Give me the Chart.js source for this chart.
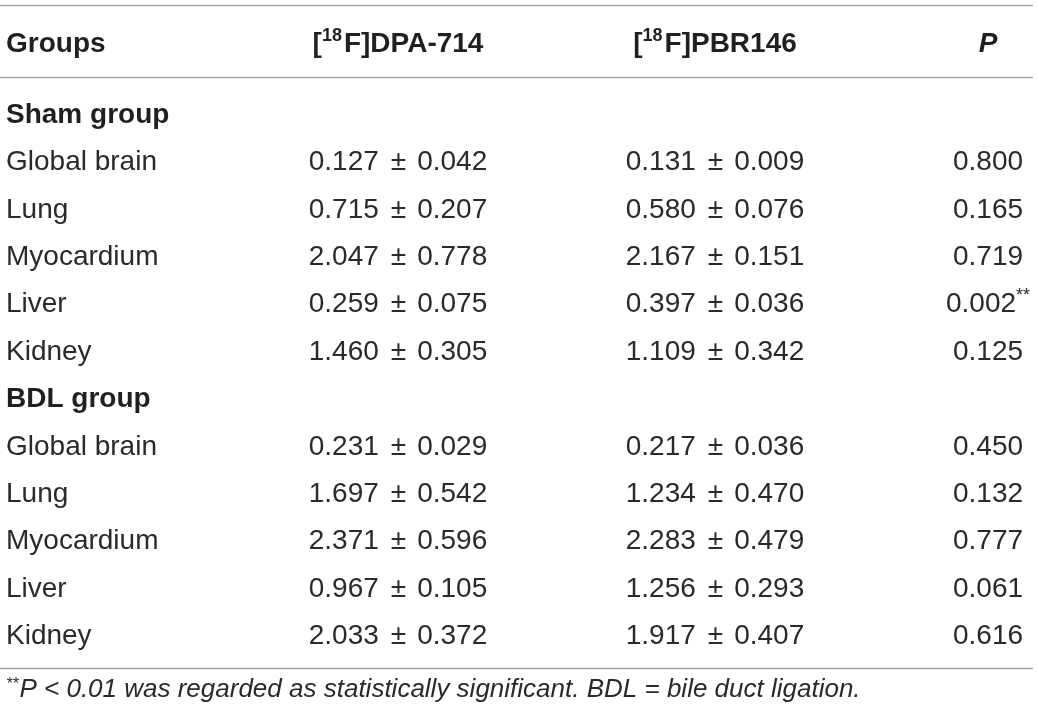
<!DOCTYPE html>
<html>
<head>
<meta charset="utf-8">
<script src="https://cdn.jsdelivr.net/npm/chart.js@4.4.1/dist/chart.umd.min.js"></script>
<style>
  html, body { margin: 0; padding: 0; background: #fff; }
  #wrap { width: 1039px; height: 717px; position: relative; }
</style>
</head>
<body>
<div id="wrap"><canvas id="tableChart"></canvas></div>
<script>
// Table content
const headers = ['Groups', '[18F]DPA-714', '[18F]PBR146', 'P'];
const groupNames = ['Sham group', 'BDL group'];
const tissues = ['Global brain', 'Lung', 'Myocardium', 'Liver', 'Kidney'];

const dpaShamMean = [0.127, 0.715, 2.047, 0.259, 1.460];
const dpaShamSd   = [0.042, 0.207, 0.778, 0.075, 0.305];
const pbrShamMean = [0.131, 0.580, 2.167, 0.397, 1.109];
const pbrShamSd   = [0.009, 0.076, 0.151, 0.036, 0.342];
const pSham       = [0.800, 0.165, 0.719, 0.002, 0.125];
const sigSham     = ['', '', '', '**', ''];

const dpaBdlMean = [0.231, 1.697, 2.371, 0.967, 2.033];
const dpaBdlSd   = [0.029, 0.542, 0.596, 0.105, 0.372];
const pbrBdlMean = [0.217, 1.234, 2.283, 1.256, 1.917];
const pbrBdlSd   = [0.036, 0.470, 0.479, 0.293, 0.407];
const pBdl       = [0.450, 0.132, 0.777, 0.061, 0.616];
const sigBdl     = ['', '', '', '', ''];

const footnote = 'P < 0.01 was regarded as statistically significant. BDL = bile duct ligation.';

// Layout anchors (x in page units, y in row units)
const colX = [6, 398, 715, 988];
const colAlign = ['left', 'center', 'center', 'center'];
const headerRow = -1.5;
const ruleRows = [-2.49, -0.97, 11.51];
const footRow = 12.12;

const TEXT = '#231f20';
const BODY = '#2a2a2a';
const FONT = '"Liberation Sans", Arial, Helvetica, sans-serif';
const SIZE = 28;

const fmt = v => v.toFixed(3);
// mean ± sd as text segments
const pm = (m, s) => [{ t: fmt(m) }, { gap: 12 }, { t: '\u00b1' }, { gap: 11 }, { t: fmt(s) }];

// build the table rows
const rows = [];
[[dpaShamMean, dpaShamSd, pbrShamMean, pbrShamSd, pSham, sigSham],
 [dpaBdlMean, dpaBdlSd, pbrBdlMean, pbrBdlSd, pBdl, sigBdl]].forEach((g, gi) => {
    rows.push({ group: groupNames[gi] });
    tissues.forEach((t, i) => {
        const pSegs = [{ t: fmt(g[4][i]) }];
        if (g[5][i]) pSegs.push({ t: g[5][i], sup: true });
        rows.push({
            cells: [[{ t: t }], pm(g[0][i], g[1][i]), pm(g[2][i], g[3][i]), pSegs]
        });
    });
});

// draw a list of text segments {t, sup, italic, weight} or {gap} with alignment
function drawRich(ctx, segs, x, y, align, weight) {
    const parts = segs.map(s => {
        if (s.gap) return { gap: true, w: s.gap };
        const size = s.sup ? Math.round(SIZE * 0.64) : SIZE;
        const font = (s.italic ? 'italic ' : '') + (s.weight || weight) + ' ' + size + 'px ' + FONT;
        ctx.font = font;
        return { t: s.t, font, w: ctx.measureText(s.t).width, sup: s.sup };
    });
    const total = parts.reduce((a, p) => a + p.w, 0);
    let cx = align === 'left' ? x : align === 'right' ? x - total : x - total / 2;
    ctx.textAlign = 'left';
    ctx.textBaseline = 'alphabetic';
    parts.forEach(p => {
        if (!p.gap) {
            ctx.font = p.font;
            ctx.fillText(p.t, cx, p.sup ? y - SIZE * 0.4 : y);
        }
        cx += p.w;
    });
}

function splitSup(label) {
    const m = label.match(/^\[(\d+)(.*)$/);
    if (!m) return [{ t: label }];
    return [{ t: '[' }, { t: m[1], sup: true }, { gap: 2 }, { t: m[2] }];
}

const tablePlugin = {
    id: 'tablePlugin',
    afterDraw(chart) {
        const { ctx, scales: { x, y } } = chart;
        ctx.save();

        // rules
        ctx.strokeStyle = '#a3a3a3';
        ctx.lineWidth = 1.6;
        ruleRows.forEach(r => {
            const py = Math.round(y.getPixelForValue(r)) + 0.5;
            ctx.beginPath();
            ctx.moveTo(x.getPixelForValue(0), py);
            ctx.lineTo(x.getPixelForValue(1033), py);
            ctx.stroke();
        });

        // header
        ctx.fillStyle = TEXT;
        const hy = y.getPixelForValue(headerRow);
        headers.forEach((h, c) => {
            const segs = h === 'P' ? [{ t: 'P', italic: true }] : splitSup(h);
            drawRich(ctx, segs, x.getPixelForValue(colX[c]), hy, colAlign[c], 'bold');
        });

        // body
        rows.forEach((row, r) => {
            const py = y.getPixelForValue(r);
            if (row.group) {
                ctx.fillStyle = TEXT;
                drawRich(ctx, [{ t: row.group }], x.getPixelForValue(colX[0]), py, 'left', 'bold');
                return;
            }
            ctx.fillStyle = BODY;
            row.cells.forEach((segs, c) => {
                drawRich(ctx, segs, x.getPixelForValue(colX[c]), py, colAlign[c], 'normal');
            });
        });

        // footnote
        ctx.fillStyle = BODY;
        const fy = y.getPixelForValue(footRow);
        const fx = x.getPixelForValue(colX[0]);
        ctx.font = 'italic normal 16px ' + FONT;
        ctx.fillText('**', fx, fy - 8);
        const sw = ctx.measureText('**').width;
        ctx.font = 'italic normal 26px ' + FONT;
        ctx.fillText(footnote, fx + sw + 1, fy);

        ctx.restore();
    }
};

new Chart(document.getElementById('tableChart'), {
    type: 'scatter',
    data: { datasets: [] },
    plugins: [tablePlugin],
    options: {
        responsive: true,
        maintainAspectRatio: false,
        animation: false,
        layout: { padding: 0 },
        plugins: { legend: { display: false }, tooltip: { enabled: false } },
        scales: {
            x: { type: 'linear', display: false, min: 0, max: 1039 },
            y: { type: 'linear', display: false, reverse: true, min: -2.597, max: 12.542 }
        }
    }
});
</script>
</body>
</html>
